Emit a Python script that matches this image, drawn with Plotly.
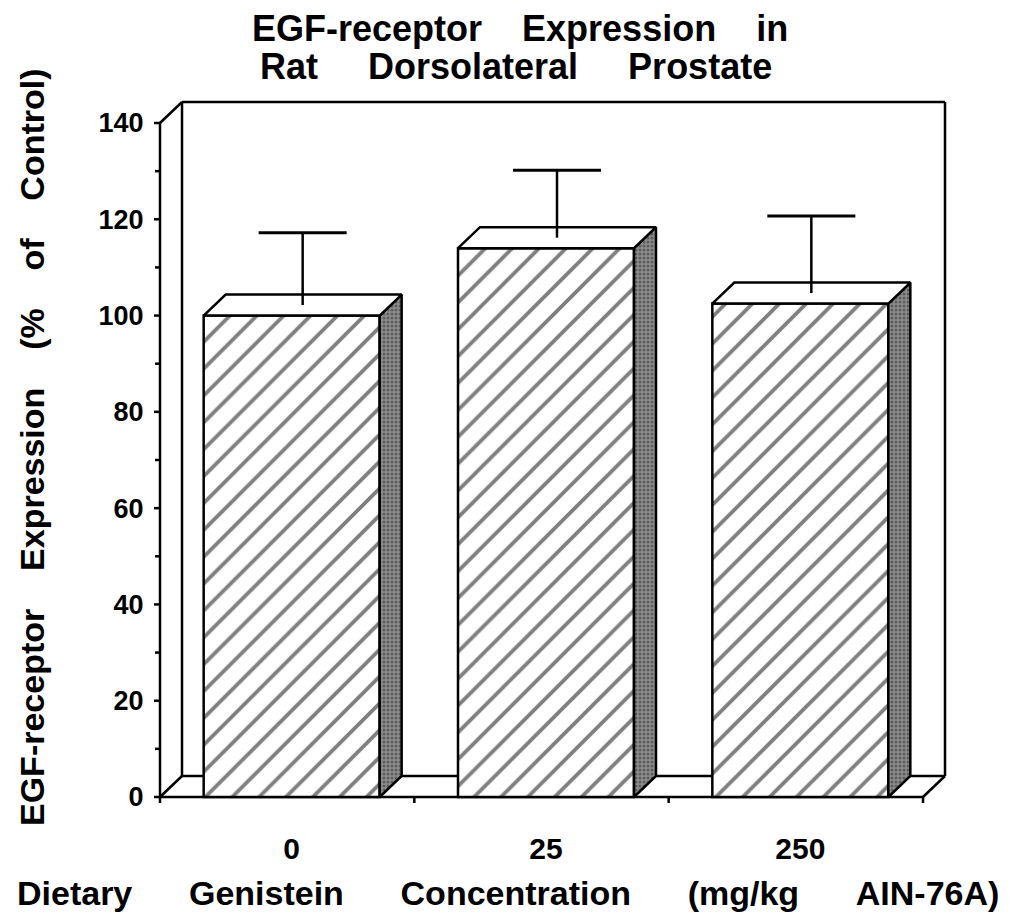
import plotly.graph_objects as go

# ---------------- data ----------------
categories = ["0", "25", "250"]
means = [100, 114, 102.5]
err_upper = [15, 14, 16]
y_tick_vals = [0, 20, 40, 60, 80, 100, 120, 140]
y_minor_vals = [10, 30, 50, 70, 90, 110, 130]
title_lines = ["EGF-receptor  Expression  in", "Rat  Dorsolateral  Prostate"]
x_title = "Dietary  Genistein  Concentration  (mg/kg  AIN-76A)"
y_title = "EGF-receptor  Expression  (%  of  Control)"

# ---------------- geometry / style ----------------
FIG_W, FIG_H = 1010, 913
XA_PX, XB_PX = 160, 923      # pixel of x=-0.5 and x=2.5
Y0_PX, YT_PX = 797, 123      # pixel of y=0 and y=140
YMAX = 140
DEPTH_X_PX, DEPTH_Y_PX = 22, 21
PAD = 6
n = len(categories)
Kx = (XB_PX - XA_PX) / n
Ky = (Y0_PX - YT_PX) / YMAX
DX = DEPTH_X_PX / Kx
DY = DEPTH_Y_PX / Ky
BAR_W = 176 / Kx
SHIFT = 4.5 / Kx
CAP_HALF = 44 / Kx
xlo, xhi = -0.5, n - 0.5

L = XA_PX - PAD
R = FIG_W - (XB_PX + DEPTH_X_PX + PAD)
T = YT_PX - DEPTH_Y_PX - PAD
B = FIG_H - (Y0_PX + PAD)
PW = FIG_W - L - R
PH = FIG_H - T - B


def gap(s, k):
    return s.replace("  ", "\u00a0" * k)


def px_x(px):
    return (px - L) / PW


def px_y(py):
    return (FIG_H - B - py) / PH


LW = 2.5
LINE = dict(color="black", width=LW)
FONT = "Liberation Sans, Arial, Helvetica"

xs = [i + SHIFT for i in range(n)]

fig = go.Figure()

# front faces
fig.add_trace(go.Bar(
    x=xs, y=means, width=BAR_W,
    marker=dict(color="white", line=dict(color="black", width=2.5),
                pattern=dict(shape="/", fgcolor="black", bgcolor="white",
                             size=19, solidity=0.2)),
    showlegend=False, hoverinfo="skip"))

# side faces and top faces
for x, v in zip(xs, means):
    xl, xr = x - BAR_W / 2, x + BAR_W / 2
    fig.add_trace(go.Scatter(
        x=[xr, xr + DX, xr + DX, xr, xr], y=[0, DY, v + DY, v, 0],
        mode="lines", fill="toself", line=LINE, fillcolor="#707070",
        fillpattern=dict(shape=".", fgcolor="#2a2a2a", bgcolor="#8e8e8e",
                         size=4, solidity=0.45),
        showlegend=False, hoverinfo="skip"))
    fig.add_trace(go.Scatter(
        x=[xl, xl + DX, xr + DX, xr, xl], y=[v, v + DY, v + DY, v, v],
        mode="lines", fill="toself", fillcolor="white", line=LINE,
        showlegend=False, hoverinfo="skip"))

# error bars (at mid depth): stem + cap
xe = [x + DX / 2 for x in xs]
fig.add_trace(go.Scatter(
    x=xe, y=[v + DY / 2 for v in means],
    mode="markers", marker=dict(size=1, color="rgba(0,0,0,0)"),
    error_y=dict(type="data", symmetric=False, array=err_upper,
                 arrayminus=[0] * n, width=0, thickness=2.5, color="black"),
    showlegend=False, hoverinfo="skip"))
fig.add_trace(go.Scatter(
    x=xe, y=[v + e + DY / 2 for v, e in zip(means, err_upper)],
    mode="markers", marker=dict(size=1, color="rgba(0,0,0,0)"),
    error_x=dict(type="constant", value=CAP_HALF, width=0, thickness=3, color="black"),
    showlegend=False, hoverinfo="skip"))

shapes = []


def seg(x0, y0, x1, y1, layer="below"):
    shapes.append(dict(type="line", x0=x0, y0=y0, x1=x1, y1=y1,
                       xref="x", yref="y", line=LINE, layer=layer))


# frame: floor + back wall + front axis
seg(xlo, 0, xlo, YMAX)
seg(xlo, YMAX, xlo + DX, YMAX + DY)
seg(xlo + DX, DY, xlo + DX, YMAX + DY)
seg(xlo + DX, YMAX + DY, xhi + DX, YMAX + DY)
seg(xhi + DX, DY, xhi + DX, YMAX + DY)
seg(xlo, 0, xhi, 0)
seg(xlo, 0, xlo + DX, DY)
seg(xhi, 0, xhi + DX, DY)
seg(xlo + DX, DY, xhi + DX, DY)

# y ticks
for v in y_tick_vals:
    shapes.append(dict(type="line", xref="x", yref="y", xsizemode="pixel",
                       xanchor=xlo, x0=-10, x1=0, y0=v, y1=v, line=LINE))
for v in y_minor_vals:
    shapes.append(dict(type="line", xref="x", yref="y", xsizemode="pixel",
                       xanchor=xlo, x0=-5, x1=0, y0=v, y1=v, line=LINE))
# x category boundary ticks
for i in range(n + 1):
    xb = xlo + i
    shapes.append(dict(type="line", xref="x", yref="y", ysizemode="pixel",
                       yanchor=0, y0=-7, y1=0, x0=xb, x1=xb, line=LINE))

annotations = [
    dict(text=gap(title_lines[0], 4), xref="paper", yref="paper",
         x=px_x(520), y=px_y(28), xanchor="center", yanchor="middle",
         showarrow=False, font=dict(family=FONT, size=36, color="black", weight="bold")),
    dict(text=gap(title_lines[1], 5), xref="paper", yref="paper",
         x=px_x(516), y=px_y(66), xanchor="center", yanchor="middle",
         showarrow=False, font=dict(family=FONT, size=36, color="black", weight="bold")),
    dict(text=gap(x_title, 6), xref="paper", yref="paper",
         x=px_x(508), y=px_y(893), xanchor="center", yanchor="middle",
         showarrow=False, font=dict(family=FONT, size=34, color="black", weight="bold")),
    dict(text=gap(y_title, 4), xref="paper", yref="paper", textangle=-90,
         x=px_x(32), y=px_y(447), xanchor="center", yanchor="middle",
         showarrow=False, font=dict(family=FONT, size=34, color="black", weight="bold")),
]

fig.update_layout(
    width=FIG_W, height=FIG_H,
    margin=dict(l=L, r=R, t=T, b=B, pad=0),
    paper_bgcolor="white", plot_bgcolor="white",
    showlegend=False,
    shapes=shapes, annotations=annotations,
    xaxis=dict(range=[xlo - PAD / Kx, xhi + DX + PAD / Kx], showgrid=False,
               zeroline=False, showline=False,
               tickvals=xs, ticktext=categories, ticks="outside", ticklen=19,
               tickcolor="rgba(0,0,0,0)",
               tickfont=dict(family=FONT, size=30, color="black", weight="bold")),
    yaxis=dict(range=[-PAD / Ky, YMAX + DY + PAD / Ky], showgrid=False,
               zeroline=False, showline=False,
               tickvals=y_tick_vals, ticktext=[str(v) for v in y_tick_vals],
               ticks="outside", ticklen=4, tickcolor="rgba(0,0,0,0)",
               tickfont=dict(family=FONT, size=27, color="black", weight="bold")),
)

fig.write_html("out.html", config={"displayModeBar": False},
               post_script="document.body.style.margin='0';document.body.style.overflow='hidden';")
